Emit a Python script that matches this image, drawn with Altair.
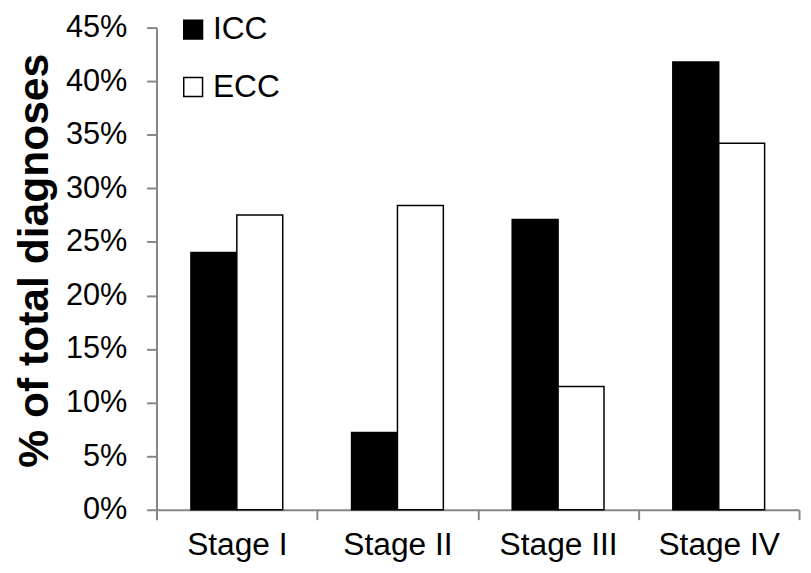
import altair as alt
import pandas as pd

stages = ["Stage I", "Stage II", "Stage III", "Stage IV"]
icc = [0.240, 0.072, 0.271, 0.418]
ecc = [0.275, 0.284, 0.115, 0.342]
groups = ["ICC", "ECC"]
y_ticks = [0, 0.05, 0.10, 0.15, 0.20, 0.25, 0.30, 0.35, 0.40, 0.45]

rows = []
for s, a, b in zip(stages, icc, ecc):
    rows.append({"stage": s, "group": "ICC", "value": a})
    rows.append({"stage": s, "group": "ECC", "value": b})
df = pd.DataFrame(rows)

FONT = "Liberation Sans"
AXIS_COLOR = "#868686"

chart = alt.Chart(df).mark_bar(stroke="black", strokeWidth=1.5).encode(
    x=alt.X("stage:N", sort=stages,
            scale=alt.Scale(paddingInner=0, paddingOuter=0),
            axis=alt.Axis(title=None, labelAngle=0, labelFont=FONT, labelFontSize=32,
                          labelColor="black", labelPadding=10, tickSize=10,
                          tickColor=AXIS_COLOR, tickWidth=2, domainColor=AXIS_COLOR,
                          domainWidth=2, tickBand="extent", labelBaseline="top")),
    xOffset=alt.XOffset("group:N", sort=groups,
                        scale=alt.Scale(paddingInner=0, paddingOuter=0.75)),
    y=alt.Y("value:Q", scale=alt.Scale(domain=[0, 0.45], nice=False),
            axis=alt.Axis(title="% of total diagnoses", values=y_ticks, format=".0%",
                          grid=False, labelFont=FONT, labelFontSize=31, labelColor="black",
                          labelPadding=20, tickSize=10, tickColor=AXIS_COLOR, tickWidth=2,
                          domainColor=AXIS_COLOR, domainWidth=2,
                          titleFont=FONT, titleFontSize=43, titleFontWeight="bold",
                          titleColor="black", titleAngle=270, titleX=-110, titleY=235,
                          titleAlign="center", titleBaseline="alphabetic")),
    fill=alt.Fill("group:N", sort=groups,
                  scale=alt.Scale(domain=groups, range=["black", "white"]),
                  legend=alt.Legend(title=None, orient="none", legendX=21, legendY=-14,
                                    symbolType="square", symbolSize=361,
                                    symbolStrokeColor="black", symbolStrokeWidth=1.5,
                                    labelFont=FONT, labelFontSize=32, labelColor="black",
                                    labelOffset=4, rowPadding=26)),
).properties(
    width=649, height=487,
    autosize=alt.AutoSizeParams(type="none"),
    padding={"left": 150, "top": 17, "right": 4, "bottom": 53},
).configure_view(stroke=None)

chart.save("out.html", embed_options={"renderer": "svg", "actions": False})
